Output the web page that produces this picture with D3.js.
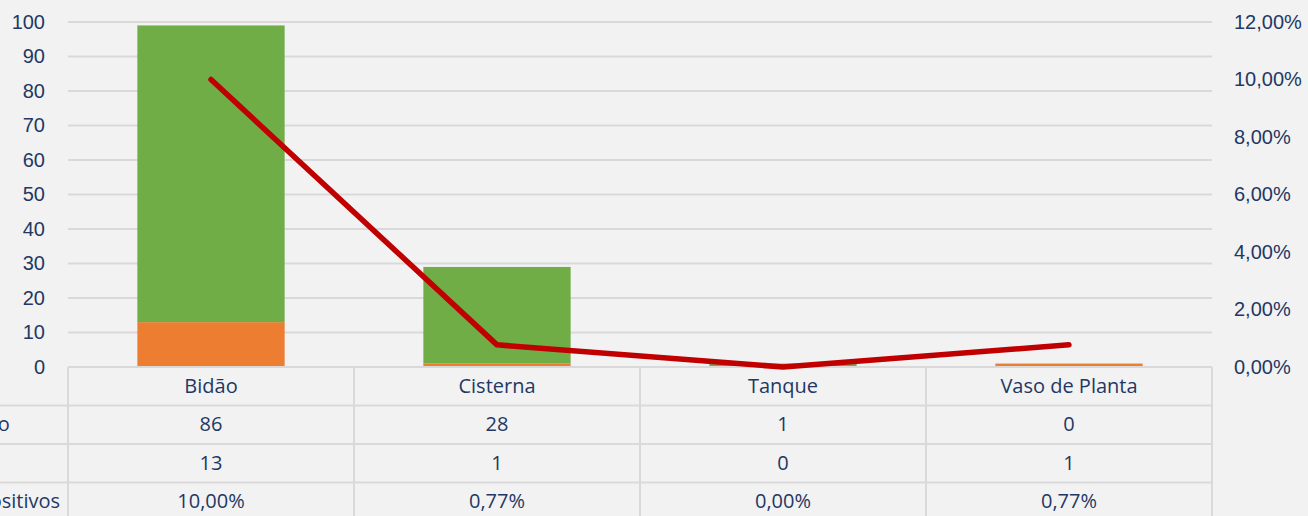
<!DOCTYPE html>
<html>
<head>
<meta charset="utf-8">
<script src="https://cdn.jsdelivr.net/npm/d3@7"></script>
<style>
  body { margin: 0; background: #f2f2f2; }
  svg { display: block; font-family: "Open Sans", Lato, sans-serif; }
  .tick text, .cell { fill: #1f3864; font-size: 20px; }
</style>
</head>
<body>
<svg id="chart" width="1308" height="516"></svg>
<script>
// Data
var categories = ["Bidão", "Cisterna", "Tanque", "Vaso de Planta"];
var negativos = [86, 28, 1, 0];
var positivos = [13, 1, 0, 1];
var percentual = [0.10, 0.0077, 0, 0.0077];
var rowLabels = ["Negativo", "Pos.", "% de Positivos"];
var leftTicks = [0, 10, 20, 30, 40, 50, 60, 70, 80, 90, 100];
var rightTicks = [0, 0.02, 0.04, 0.06, 0.08, 0.10, 0.12];

var vars = {
  width: 1308,
  height: 516,
  margin: {top: 22, right: 96, bottom: 149, left: 68},
  text: "#1f3864",
  grid: "#d9d9d9",
  green: "#70ad47",
  orange: "#ed7d31",
  red: "#c00000",
  rowH: 38.5
};

var svg = d3.select("#chart");
var plotW = vars.width - vars.margin.left - vars.margin.right;
var plotB = vars.height - vars.margin.bottom;

var x = d3.scaleBand().domain(categories).range([vars.margin.left, vars.margin.left + plotW]).paddingInner(0).paddingOuter(0);
var y = d3.scaleLinear().domain([0, 100]).range([plotB, vars.margin.top]);
var y2 = d3.scaleLinear().domain([0, 0.12]).range([plotB, vars.margin.top]);

// Gridlines
svg.append("g").selectAll("line").data(leftTicks.slice(1)).enter()
  .append("line")
  .attr("x1", vars.margin.left).attr("x2", vars.margin.left + plotW)
  .attr("y1", function(d) { return y(d); }).attr("y2", function(d) { return y(d); })
  .attr("stroke", vars.grid).attr("stroke-width", 2);

// Left axis
var gl = svg.append("g").attr("transform", "translate(" + (vars.margin.left - 23) + ",0)")
  .call(d3.axisLeft(y).tickValues(leftTicks).tickSize(0).tickPadding(0));
gl.select(".domain").remove();

// Right axis
var gr = svg.append("g").attr("transform", "translate(" + (vars.margin.left + plotW + 22) + ",0)")
  .call(d3.axisRight(y2).tickValues(rightTicks).tickSize(0).tickPadding(0)
    .tickFormat(function(d) { return (d * 100).toFixed(2).replace(".", ",") + "%"; }));
gr.select(".domain").remove();

// Stacked bars
var stackData = categories.map(function(c, i) { return {cat: c, pos: positivos[i], neg: negativos[i]}; });
var series = d3.stack().keys(["pos", "neg"])(stackData);
var colors = {pos: vars.orange, neg: vars.green};
var bw = x.bandwidth() * 0.515;

svg.append("g").selectAll("g").data(series).enter()
  .append("g").attr("fill", function(s) { return colors[s.key]; })
  .selectAll("rect").data(function(s) { return s; }).enter()
  .append("rect")
  .attr("x", function(d) { return x(d.data.cat) + (x.bandwidth() - bw) / 2; })
  .attr("width", bw)
  .attr("y", function(d) { return y(d[1]); })
  .attr("height", function(d) { return y(d[0]) - y(d[1]); });

// Data table
var table = svg.append("g");
var tableBottom = vars.height + 10;
var lineColor = "#d9d9d9";

// horizontal lines
table.append("line")
  .attr("x1", vars.margin.left).attr("x2", vars.margin.left + plotW)
  .attr("y1", plotB).attr("y2", plotB)
  .attr("stroke", lineColor).attr("stroke-width", 2);
table.selectAll(".hrow").data(d3.range(1, 4)).enter()
  .append("line").attr("class", "hrow")
  .attr("x1", 0).attr("x2", vars.margin.left + plotW)
  .attr("y1", function(i) { return plotB + i * vars.rowH; })
  .attr("y2", function(i) { return plotB + i * vars.rowH; })
  .attr("stroke", lineColor).attr("stroke-width", 2);

// vertical lines
var vx = categories.map(function(c) { return x(c); }).concat([vars.margin.left + plotW]);
table.selectAll(".vline").data(vx).enter()
  .append("line").attr("class", "vline")
  .attr("x1", function(d) { return d; }).attr("x2", function(d) { return d; })
  .attr("y1", plotB).attr("y2", tableBottom)
  .attr("stroke", lineColor).attr("stroke-width", 2);

// header
table.selectAll(".hdr").data(categories).enter()
  .append("text").attr("class", "cell")
  .attr("x", function(d) { return x(d) + x.bandwidth() / 2; })
  .attr("y", plotB + vars.rowH / 2 - 1)
  .attr("text-anchor", "middle").attr("dominant-baseline", "central")
  .text(function(d) { return d; });

var fmtPct = function(v) { return (v * 100).toFixed(2).replace(".", ",") + "%"; };
var rows = [
  negativos.map(String),
  positivos.map(String),
  percentual.map(fmtPct)
];

rows.forEach(function(vals, r) {
  var cy = plotB + (r + 1.5) * vars.rowH - 1;
  table.selectAll(".r" + r).data(vals).enter()
    .append("text").attr("class", "cell r" + r)
    .attr("x", function(d, i) { return x(categories[i]) + x.bandwidth() / 2; })
    .attr("y", cy)
    .attr("text-anchor", "middle").attr("dominant-baseline", "central")
    .text(function(d) { return d; });
});

// row labels (cut off at left edge, as in the source)
var labels = table.selectAll(".rlab").data(rowLabels).enter()
  .append("text").attr("class", "cell rlab")
  .attr("y", function(d, i) { return plotB + (i + 1.5) * vars.rowH - 1; })
  .attr("dominant-baseline", "central")
  .text(function(d) { return d; });
var longest = labels.nodes()[2].getComputedTextLength();
labels.attr("x", 60 - longest);

// Line on secondary axis
var line = d3.line()
  .x(function(d, i) { return x(categories[i]) + x.bandwidth() / 2; })
  .y(function(d) { return y2(d); });

svg.append("path").datum(percentual)
  .attr("d", line)
  .attr("fill", "none")
  .attr("stroke", vars.red)
  .attr("stroke-width", 5.5)
  .attr("stroke-linecap", "round")
  .attr("stroke-linejoin", "round");
</script>
</body>
</html>
